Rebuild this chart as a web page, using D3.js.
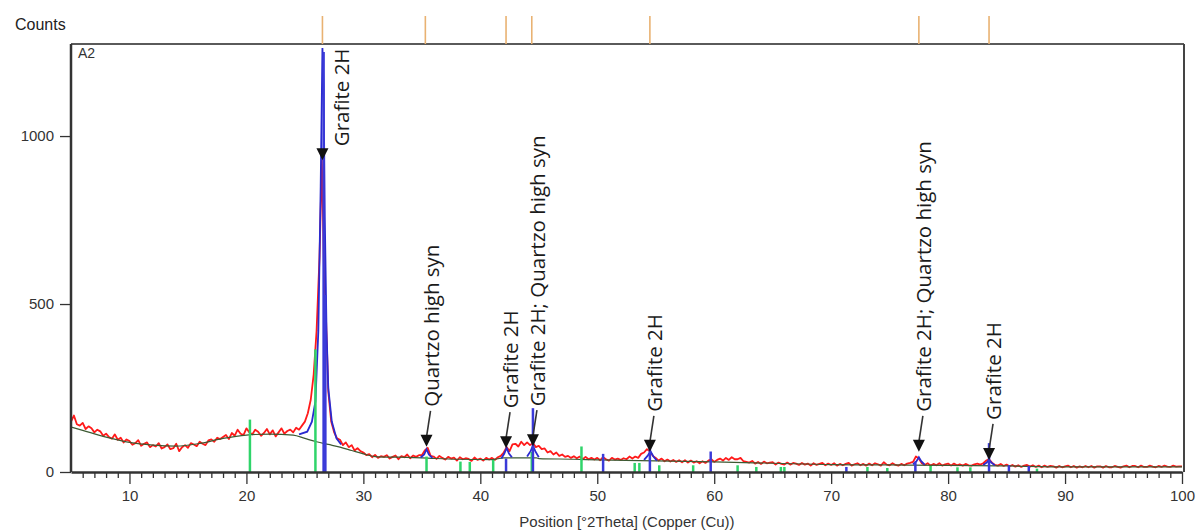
<!DOCTYPE html>
<html>
<head>
<meta charset="utf-8">
<script src="https://cdn.jsdelivr.net/npm/d3@7"></script>
<style>
  body { margin: 0; background: #fff; }
  svg { display: block; }
</style>
</head>
<body>
<div id="vis"></div>
<script>
// scan: counts every 0.25 deg 2Theta starting at 5
const scanStart = 5;
const scanStep = 0.25;
const counts = [
  150, 168, 142, 138,  146, 128, 136, 130,  118, 126, 121, 108,  114, 104, 99, 112,
  96, 102, 88, 97,     92, 81, 86, 95,      78, 84, 88, 74,      80, 76, 86, 70,
  74, 82, 68, 71,      84, 62, 74, 80,      72, 86, 82, 77,      90, 84, 80, 94,
  97, 90, 102, 98,     104, 110, 98, 116,   108, 126, 114, 110,  130, 118, 112, 126,
  120, 108, 116, 128,  112, 124, 106, 118,  130, 114, 122, 126,  118, 132, 126, 138,
  150, 175, 215, 290,  420, 640, 880, 520,  240, 150, 118, 100,  96, 80, 88, 74,
  80, 64, 71, 62,      58, 50, 53, 44,      51, 42, 47, 45,      50, 40, 45, 49,
  38, 47, 44, 52,      41, 49, 45, 50,      50, 64, 72, 48,      46, 39, 48, 42,
  37, 45, 40, 43,      34, 44, 38, 41,      39, 33, 43, 36,      40, 34, 42, 37,
  42, 36, 44, 48,      58, 74, 62, 82,      84, 76, 90, 80,      88, 80, 86, 74,
  78, 68, 70, 58,      62, 52, 58, 48,      52, 45, 48, 42,      47, 41, 46, 38,
  45, 38, 42, 37,      42, 35, 44, 38,      34, 42, 37, 40,      36, 41, 38, 46,
  40, 46, 42, 54,      58, 68, 62, 48,      42, 34, 40, 32,      37, 31, 36, 30,
  35, 29, 35, 28,      34, 28, 32, 26,      32, 27, 34, 38,      30, 36, 40, 34,
  42, 36, 44, 38,      38, 42, 32, 30,      28, 33, 25, 30,      24, 31, 26, 28,
  29, 22, 28, 24,      22, 28, 22, 27,      25, 21, 27, 22,      25, 19, 26, 21,
  24, 27, 20, 25,      21, 26, 19, 24,      20, 24, 27, 19,      23, 26, 20, 24,
  19, 25, 20, 26,      23, 19, 29, 22,      20, 26, 21, 19,      24, 20, 25, 27,
  30, 46, 40, 26,      21, 26, 19, 24,      20, 26, 19, 23,      25, 19, 25, 20,
  23, 19, 24, 20,      19, 23, 25, 22,      26, 34, 38, 28,      21, 19, 24, 18,
  22, 17, 21, 16,      20, 15, 19, 21,      16, 20, 15, 19,      14, 19, 15, 18,
  17, 13, 18, 14,      17, 19, 14, 18,      13, 17, 14, 18,      14, 18, 13, 17,
  17, 13, 18, 14,      14, 18, 15, 13,      17, 19, 14, 18,      18, 14, 19, 15,
  15, 19, 16, 14,      18, 15, 19, 16,      15, 19, 16, 17,      17
];
// extra points around the main reflection
const peakDetail = [[26.35, 780], [26.45, 928], [26.55, 760], [26.65, 560]];

// fitted background
const background = [
  [5, 134], [6, 124], [8, 104], [10, 88], [12, 80], [14, 77], [16, 85], [18, 100],
  [20, 110], [22, 113], [24, 110], [25, 100], [26, 90], [27, 82], [28, 74], [29, 64],
  [30, 54], [31, 46], [33, 44], [35, 42], [38, 38], [41, 37], [42, 42], [44.8, 42],
  [45, 40], [48, 38], [50, 36], [55, 33], [60, 30], [65, 26], [70, 22], [75, 21],
  [80, 20], [85, 18], [90, 15], [95, 15], [100, 15]
];

// calculated profile around the identified peaks
const calcProfiles = [
  [[24.5, 112], [25.2, 120], [25.6, 150], [25.9, 210], [26.15, 420], [26.35, 850], [26.5, 1262],
   [26.6, 1150], [26.7, 760], [26.85, 420], [27.0, 250], [27.3, 150], [27.7, 100], [28.1, 82]],
  [[34.9, 43], [35.2, 52], [35.4, 68], [35.6, 52], [35.9, 42]],
  [[41.8, 40], [42.05, 55], [42.25, 72], [42.45, 55], [42.7, 44]],
  [[44.0, 46], [44.3, 62], [44.5, 78], [44.7, 62], [45.0, 44]],
  [[54.0, 36], [54.3, 48], [54.55, 62], [54.8, 46], [55.1, 34]],
  [[77.0, 23], [77.3, 32], [77.5, 44], [77.7, 32], [78.0, 22]],
  [[83.0, 21], [83.3, 28], [83.5, 36], [83.7, 28], [84.0, 20]]
];

// reference patterns (stick lines)
const greenSticks = [
  [20.3, 156], [25.9, 365], [35.4, 46], [38.3, 31], [39.1, 30], [41.1, 36], [44.4, 60],
  [48.65, 76], [53.2, 27], [53.6, 27], [55.3, 20], [58.2, 20], [62.0, 20], [63.6, 15],
  [65.7, 15], [66.0, 15], [73.1, 15], [74.8, 12], [78.5, 18], [80.8, 14], [81.9, 14], [87.6, 10]
];
const blueSticks = [
  [26.6, 1250], [26.75, 527], [42.2, 40], [44.5, 190], [50.5, 54], [54.5, 72], [59.7, 61],
  [71.3, 15], [77.2, 31], [83.5, 86], [85.2, 20], [86.9, 18]
];

// peak list (orange marks on top) and annotations
const peakPositions = [26.5, 35.3, 42.2, 44.4, 54.5, 77.5, 83.5];
const labelPos = [26.5, 35.4, 42.2, 44.5, 54.5, 77.5, 83.5];
const labelTip = [928, 75, 71, 77, 60, 60, 36];
const labelText = [
  "Grafite 2H", "Quartzo high syn", "Grafite 2H", "Grafite 2H; Quartzo high syn",
  "Grafite 2H", "Grafite 2H; Quartzo high syn", "Grafite 2H"
];

const xTicks = [10, 20, 30, 40, 50, 60, 70, 80, 90, 100];
const yTicks = [0, 500, 1000];

const W = 1202, H = 532;
const plot = { left: 71, right: 1182, top: 44, bottom: 472 };

const svg = d3.select("#vis").append("svg")
  .attr("width", W)
  .attr("height", H);

const x = d3.scaleLinear().domain([5, 100]).range([plot.left, plot.right]);
const y = d3.scaleLinear().domain([0, 1274]).range([plot.bottom, plot.top]);

svg.append("clipPath").attr("id", "clip")
  .append("rect")
  .attr("x", plot.left).attr("y", plot.top)
  .attr("width", plot.right - plot.left).attr("height", plot.bottom - plot.top);

const observed = counts.map((c, i) => [scanStart + i * scanStep, c])
  .filter(d => d[0] < 26.3 || d[0] > 26.7)
  .concat(peakDetail)
  .sort((a, b) => a[0] - b[0]);

const line = d3.line().x(d => x(d[0])).y(d => y(d[1]));

const g = svg.append("g").attr("clip-path", "url(#clip)");

// observed scan
g.append("path")
  .datum(observed)
  .attr("fill", "none")
  .attr("stroke", "#ff1a1a")
  .attr("stroke-width", 1.8)
  .attr("stroke-linejoin", "round")
  .attr("d", line);

// background
g.append("path")
  .datum(background)
  .attr("fill", "none")
  .attr("stroke", "#3d5a33")
  .attr("stroke-width", 1.2)
  .attr("d", d3.line().x(d => x(d[0])).y(d => y(d[1])).curve(d3.curveMonotoneX));

// calculated profile
calcProfiles.forEach(p => {
  g.append("path")
    .datum(p)
    .attr("fill", "none")
    .attr("stroke", "#2a2ad0")
    .attr("stroke-width", 1.8)
    .attr("d", line);
});

// stick patterns
g.selectAll("line.green")
  .data(greenSticks)
  .join("line")
  .attr("class", "green")
  .attr("x1", d => x(d[0])).attr("x2", d => x(d[0]))
  .attr("y1", y(0)).attr("y2", d => y(d[1]))
  .attr("stroke", "#2fd46a")
  .attr("stroke-width", 2.5);

g.selectAll("line.blue")
  .data(blueSticks)
  .join("line")
  .attr("class", "blue")
  .attr("x1", d => x(d[0])).attr("x2", d => x(d[0]))
  .attr("y1", y(0)).attr("y2", d => y(d[1]))
  .attr("stroke", "#3a3ad8")
  .attr("stroke-width", 2.5);

// frame: top and right
svg.append("line")
  .attr("x1", plot.left).attr("x2", plot.right + 2)
  .attr("y1", plot.top).attr("y2", plot.top)
  .attr("stroke", "#5a5a5a").attr("stroke-width", 2);
svg.append("line")
  .attr("x1", plot.right + 2).attr("x2", plot.right + 2)
  .attr("y1", plot.top).attr("y2", plot.bottom)
  .attr("stroke", "#444").attr("stroke-width", 2);

// orange peak marks
svg.selectAll("line.peak")
  .data(peakPositions)
  .join("line")
  .attr("class", "peak")
  .attr("x1", d => x(d)).attr("x2", d => x(d))
  .attr("y1", 16).attr("y2", plot.top)
  .attr("stroke", "#e9b272")
  .attr("stroke-width", 1.6);

// axes
const xAxis = svg.append("g")
  .attr("transform", `translate(0,${plot.bottom})`)
  .call(d3.axisBottom(x).tickValues(xTicks).tickSize(12).tickSizeOuter(0).tickPadding(6));
svg.append("g")
  .attr("transform", `translate(0,${plot.bottom})`)
  .call(d3.axisBottom(x).tickValues(d3.range(6, 100, 1).filter(v => v % 10 !== 0))
    .tickSize(6).tickSizeOuter(0).tickFormat(""))
  .call(a => a.select(".domain").remove());

const yAxis = svg.append("g")
  .attr("transform", `translate(${plot.left},0)`)
  .call(d3.axisLeft(y).tickValues(yTicks).tickFormat(d3.format("d"))
    .tickSize(11).tickSizeOuter(0).tickPadding(6));

[xAxis, yAxis].forEach(a => {
  a.select(".domain").attr("stroke", "#333").attr("stroke-width", 2.5);
  a.selectAll(".tick text")
    .attr("font-family", "Liberation Sans, Arial, sans-serif")
    .attr("font-size", 15)
    .attr("fill", "#333");
});
svg.selectAll(".tick line").attr("stroke", "#333").attr("stroke-width", 1.3);
yAxis.select(".domain").attr("d", `M0,${plot.top}V${plot.bottom}`);

// annotations
const ann = svg.append("g");
labelPos.forEach((p, i) => {
  const px = x(p);
  const tipY = y(labelTip[i]);
  const main = labelTip[i] > 500;
  const cx = main ? px + 19 : px + 4;
  const bottom = main ? tipY - 14 : tipY - 40;

  ann.append("text")
    .attr("transform", `translate(${cx},${bottom}) rotate(-90)`)
    .attr("text-anchor", "start")
    .attr("dominant-baseline", "central")
    .attr("font-family", "Open Sans, Noto Sans, sans-serif")
    .attr("font-size", 20.5)
    .attr("fill", "#1a1a1a")
    .text(labelText[i]);

  if (!main) {
    ann.append("line")
      .attr("x1", cx).attr("y1", bottom + 4)
      .attr("x2", px).attr("y2", tipY - 10)
      .attr("stroke", "#333").attr("stroke-width", 1.6);
  }
  ann.append("path")
    .attr("d", `M${px - 6},${tipY - 12}L${px + 6},${tipY - 12}L${px},${tipY}Z`)
    .attr("fill", "#111");
});

// texts
svg.append("text")
  .attr("x", 15).attr("y", 30)
  .attr("font-family", "Liberation Sans, Arial, sans-serif")
  .attr("font-size", 16)
  .attr("fill", "#222")
  .text("Counts");

svg.append("text")
  .attr("x", 78).attr("y", 58)
  .attr("font-family", "Liberation Sans, Arial, sans-serif")
  .attr("font-size", 14)
  .attr("fill", "#333")
  .text("A2");

svg.append("text")
  .attr("x", 627).attr("y", 527)
  .attr("text-anchor", "middle")
  .attr("font-family", "Liberation Sans, Arial, sans-serif")
  .attr("font-size", 15)
  .attr("fill", "#333")
  .text("Position [°2Theta] (Copper (Cu))");
</script>
</body>
</html>
